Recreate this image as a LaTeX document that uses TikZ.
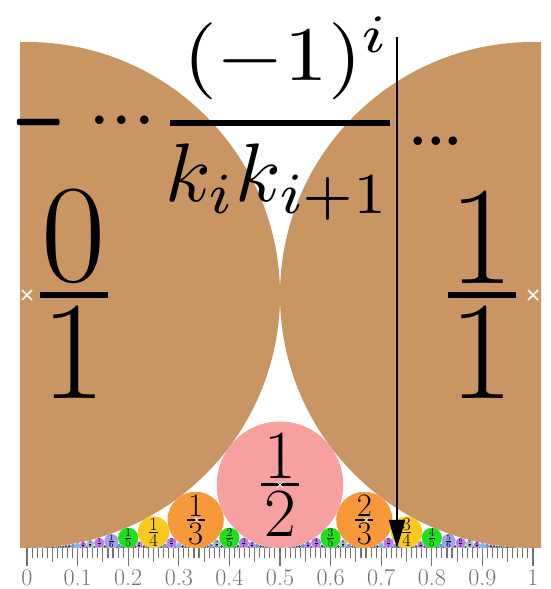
\documentclass[tikz,border=0pt]{standalone}
\usepackage{fontspec}
\usetikzlibrary{arrows.meta}
\definecolor{c1}{RGB}{201,150,99}
\definecolor{c2}{RGB}{247,160,160}
\definecolor{c3}{RGB}{247,152,58}
\definecolor{c4}{RGB}{250,200,30}
\definecolor{c5}{RGB}{30,225,30}
\definecolor{c6}{RGB}{160,160,240}
\definecolor{c7}{RGB}{190,120,240}
\definecolor{c8}{RGB}{170,190,205}
\definecolor{c9}{RGB}{185,120,235}
\definecolor{c10}{RGB}{120,180,230}
\definecolor{c11}{RGB}{110,150,200}
\definecolor{c12}{RGB}{70,80,90}
\definecolor{tickc}{RGB}{115,115,115}
\begin{document}
\begin{tikzpicture}[x=1pt,y=1pt,
  lbl/.style={inner sep=0pt, outer sep=0pt, text=black},
  fml/.style={inner sep=0pt, outer sep=0pt, transform shape},
  tickl/.style={text=tickc, font=\fontsize{24pt}{24pt}\selectfont, inner sep=0pt},
  cross/.style={white, line width=1.5}]
\useasboundingbox (0,0) rectangle (550,589);
\fill[white] (0,0) rectangle (550,589);
% Ford circles
\begin{scope}
\clip (20,0) rectangle (541,589);
\fill[c1] (27,294) circle[radius=253];
\fill[c1] (533,294) circle[radius=253];
\foreach \q in {2,...,30}{
  \pgfmathtruncatemacro\ci{min(\q,12)}
  \pgfmathtruncatemacro\qm{\q-1}
  \foreach \p in {1,...,\qm}{
    \pgfmathtruncatemacro\g{gcd(\p,\q)}
    \ifnum\g=1
      \pgfmathsetmacro\r{253/(\q*\q)}
      \pgfmathsetmacro\cx{27+506*\p/\q}
      \fill[c\ci] (\cx,41+\r) circle[radius=\r];
    \fi
  }
}
\end{scope}
% labels of 0/1 and 1/1
\node[lbl, anchor=south, font=\fontsize{140pt}{140pt}\selectfont] (n0) at (74,305) {0};
\node[lbl, anchor=north, font=\fontsize{140pt}{140pt}\selectfont] (d0) at (74,283) {1};
\draw[line width=5.6] (40,294) -- (108,294);
\node[lbl, anchor=south, font=\fontsize{140pt}{140pt}\selectfont] (n1) at (482,305) {1};
\node[lbl, anchor=north, font=\fontsize{140pt}{140pt}\selectfont] (d1) at (482,283) {1};
\draw[line width=5.6] (448,294) -- (516,294);
% labels of the other circles
\foreach \q in {2,...,9}{
  \pgfmathtruncatemacro\qm{\q-1}
  \pgfmathsetmacro\fs{\q==2 ? 276/4 : 295/(\q*\q)}
  \pgfmathsetmacro\gp{0.09*\fs}
  \pgfmathsetmacro\hw{0.27*\fs}
  \pgfmathsetmacro\lw{0.045*\fs}
  \foreach \p in {1,...,\qm}{
    \pgfmathtruncatemacro\g{gcd(\p,\q)}
    \ifnum\g=1
      \pgfmathsetmacro\r{253/(\q*\q)}
      \pgfmathsetmacro\cx{27+506*\p/\q}
      \pgfmathsetmacro\cy{41+\r}
      \node[lbl, anchor=south, font=\fontsize{\fs pt}{\fs pt}\selectfont] (n\p-\q) at (\cx,\cy+\gp) {\p};
      \node[lbl, anchor=north, font=\fontsize{\fs pt}{\fs pt}\selectfont] (d\p-\q) at (\cx,\cy-\gp) {\q};
      \draw[line width=\lw] (\cx-\hw,\cy) -- (\cx+\hw,\cy);
    \fi
  }
}
% centre marks
\draw[cross] (22,289) -- (32,299) (22,299) -- (32,289);
\draw[cross] (528,289) -- (538,299) (528,299) -- (538,289);
\draw[cross, line width=1] (277,101.25) -- (283,107.25) (277,107.25) -- (283,101.25);
\draw[cross, line width=0.8] (194.7,67.1) -- (198.7,71.1) (194.7,71.1) -- (198.7,67.1);
\draw[cross, line width=0.8] (364.3,67.1) -- (368.3,71.1) (364.3,71.1) -- (368.3,67.1);
% ruler
\foreach \k in {0,...,100}{
  \pgfmathsetmacro\tx{27+5.06*\k}
  \pgfmathtruncatemacro\m{mod(\k,10)}
  \pgfmathtruncatemacro\f{mod(\k,5)}
  \ifnum\m=0 \def\tl{18}\else\ifnum\f=0 \def\tl{14}\else\def\tl{10}\fi\fi
  \draw[tickc, line width=1.1] (\tx,41) -- (\tx,41-\tl);
}
\foreach \k/\t in {0/0,1/0.1,2/0.2,3/0.3,4/0.4,5/0.5,6/0.6,7/0.7,8/0.8,9/0.9,10/1}
  \node[tickl] (t\k) at (27+50.6*\k,11) {\t};
% formula
\node[fml, xscale=7, yscale=16] (mn) at (39,466) {$-$};
\node[fml, scale=8.1] (cd) at (122,466) {${\cdot}{\cdot}{\cdot}$};
\coordinate (bl) at (170,466);
\coordinate (br) at (390,466);
\draw[line width=6] (bl) -- (br);
\node[fml, xscale=8.7, yscale=7.7] (nu) at (287,531) {$(-1)^i$};
\node[fml, scale=8.3] (de) at (278,407) {$k_ik_{i+1}$};
\node[fml, scale=5.5] (rd) at (436,448) {\textbf{...}};
% arrow
\coordinate (at) at (397,552);
\coordinate (ab) at (397,41);
\draw[line width=2, -{Triangle[width=16pt,length=28pt]}] (at) -- (ab);
\end{tikzpicture}
\end{document}
